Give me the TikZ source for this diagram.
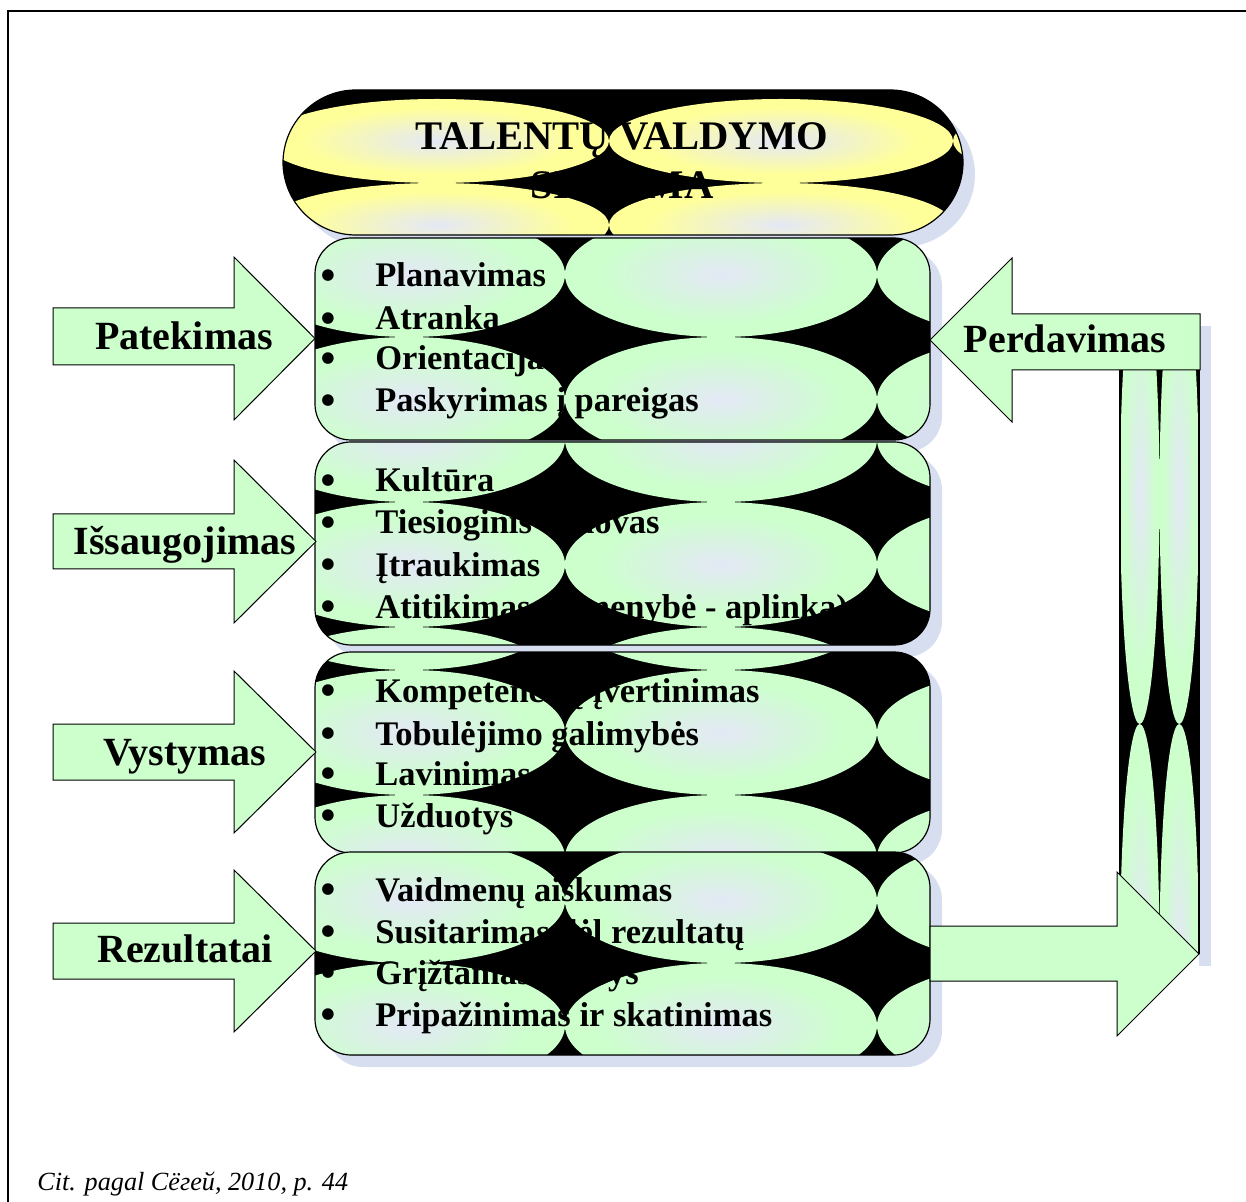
\documentclass[tikz,border=0pt]{standalone}
\usepackage{fontspec}
\setmainfont{Liberation Serif}
\newfontfamily\symfont{DejaVu Sans}

\definecolor{mint}{RGB}{204,255,204}
\definecolor{haze}{RGB}{228,232,246}
\definecolor{butter}{RGB}{255,255,153}
\definecolor{shadowblue}{RGB}{214,222,240}

% soft radial glows used inside the tiled ellipses
\pgfdeclareradialshading{mintglow}{\pgfpoint{0bp}{0bp}}{color(0bp)=(haze); color(20bp)=(mint); color(50bp)=(mint)}
\pgfdeclareradialshading{butterglow}{\pgfpoint{0bp}{0bp}}{color(0bp)=(haze); color(20bp)=(butter); color(50bp)=(butter)}

% Fill a clipped region with black and a grid of radially shaded ellipses
% #1 clip path, #2 x centres, #3 y centres, #4 x radius, #5 y radius, #6 shading
\newcommand\tilefill[6]{%
  \begin{scope}
    \clip #1;
    \fill[black] (0,0) rectangle (1246,1202);
    \foreach \cx in {#2}{\foreach \cy in {#3}{%
      \shade[shading=#6] (\cx,\cy) ellipse [x radius=#4, y radius=#5];}}
  \end{scope}}

% bullet item: name, baseline y, text
\newcommand\bitem[3]{%
  \node[dotmark] (#1d) at (328,#2-11) {●};
  \node[itemtext] (#1) at (375,#2) {#3};}

\begin{document}
\begin{tikzpicture}[x=0.5pt,y=-0.5pt,
  arrowbox/.style={fill=mint, draw=black, line width=0.5pt, line join=miter},
  outline/.style={draw=black, line width=0.6pt},
  itemtext/.style={anchor=base west, inner sep=0pt, font=\bfseries\fontsize{17.25}{20}\selectfont},
  dotmark/.style={anchor=center, inner sep=0pt, font=\symfont\fontsize{7.6}{8}\selectfont},
  flowlabel/.style={anchor=base, inner sep=0pt, font=\bfseries\fontsize{20}{24}\selectfont},
  titletext/.style={anchor=base, inner sep=0pt, font=\bfseries\fontsize{20.3}{24}\selectfont},
  shadowfill/.style={fill=shadowblue}]
\useasboundingbox (0,0) rectangle (1246,1202);

% frame
\draw[line width=1.2pt] (8,1202) -- (8,11) -- (1246,11);

% ---- title pill ----
\fill[shadowfill, rounded corners=36.5pt] (295,102) rectangle (975,247);
\tilefill{[rounded corners=36.5pt] (283,90) rectangle (963,235)}{437,781,1125}{141,225}{172}{42}{butterglow}
\draw[outline, rounded corners=36.5pt] (283,90) rectangle (963,235);
\node[titletext] (t1) at (622,150) {TALENTŲ VALDYMO};
\node[titletext] (t2) at (622,199) {SISTEMA};

% ---- box 1 ----
\fill[shadowfill, rounded corners=18pt] (327,250) rectangle (942,452);
\tilefill{[rounded corners=18pt] (315,238) rectangle (930,440)}{409,721,1033}{274.5,399.5}{156}{62.5}{mintglow}
\draw[outline, rounded corners=18pt] (315,238) rectangle (930,440);
\bitem{a1}{287}{Planavimas}
\bitem{a2}{330}{Atranka}
\bitem{a3}{370}{Orientacija}
\bitem{a4}{412}{Paskyrimas į pareigas}

% ---- box 2 ----
\fill[shadowfill, rounded corners=18pt] (327,454) rectangle (942,657);
\tilefill{[rounded corners=18pt] (315,442) rectangle (930,645)}{409,721,1033}{314.5,439.5,564.5,689.5}{156}{62.5}{mintglow}
\draw[outline, rounded corners=18pt] (315,442) rectangle (930,645);
\bitem{b1}{492}{Kultūra}
\bitem{b2}{534}{Tiesioginis vadovas}
\bitem{b3}{576}{Įtraukimas}
\bitem{b4}{618}{Atitikimas (asmenybė - aplinka)}

% ---- box 3 ----
\fill[shadowfill, rounded corners=18pt] (327,664) rectangle (942,865);
\tilefill{[rounded corners=18pt] (315,652) rectangle (930,853)}{409,721,1033}{607.5,732.5,857.5}{156}{62.5}{mintglow}
\draw[outline, rounded corners=18pt] (315,652) rectangle (930,853);
\bitem{c1}{702}{Kompetencijų įvertinimas}
\bitem{c2}{745}{Tobulėjimo galimybės}
\bitem{c3}{785}{Lavinimas}
\bitem{c4}{827}{Užduotys}

% ---- box 4 ----
\fill[shadowfill, rounded corners=18pt] (327,864) rectangle (942,1067);
\tilefill{[rounded corners=18pt] (315,852) rectangle (930,1055)}{409,721,1033}{775.5,900.5,1025.5}{156}{62.5}{mintglow}
\draw[outline, rounded corners=18pt] (315,852) rectangle (930,1055);
\bitem{d1}{901}{Vaidmenų aiškumas}
\bitem{d2}{943}{Susitarimas dėl rezultatų}
\bitem{d3}{984}{Grįžtamasis ryšys}
\bitem{d4}{1026}{Pripažinimas ir skatinimas}

% ---- incoming arrows on the left ----
\draw[arrowbox] (53,308) -- (234,308) -- (234,257) -- (315,338.5) -- (234,420) -- (234,365) -- (53,365) -- cycle;
\node[flowlabel] (l1) at (184,350) {Patekimas};
\draw[arrowbox] (53,514) -- (234,514) -- (234,460) -- (316,541.5) -- (234,623) -- (234,569) -- (53,569) -- cycle;
\node[flowlabel] (l2) at (185,555) {Išsaugojimas};
\draw[arrowbox] (53,724) -- (234,724) -- (234,671) -- (316,752) -- (234,833) -- (234,780) -- (53,780) -- cycle;
\node[flowlabel] (l3) at (185,765) {Vystymas};
\draw[arrowbox] (53,923) -- (234,923) -- (234,870) -- (316,951) -- (234,1032) -- (234,979) -- (53,979) -- cycle;
\node[flowlabel] (l4) at (185,962) {Rezultatai};

% ---- return loop on the right ----
\fill[shadowfill] (1199,326) rectangle (1211,966);
\tilefill{(1120,370) rectangle (1199,954)}{1139.75,1179.25}{494,954}{19.75}{230}{mintglow}
\draw[outline] (1120,370) -- (1120,954);
\draw[outline] (1199,370) -- (1199,954);
\draw[arrowbox] (1200,314) -- (1012,314) -- (1012,258) -- (930,340) -- (1012,422) -- (1012,370) -- (1200,370) -- cycle;
\node[flowlabel] (l5) at (1065,353) {Perdavimas};
\draw[arrowbox] (930,926) -- (1117,926) -- (1117,872) -- (1199,954) -- (1117,1036) -- (1117,981) -- (930,981) -- cycle;

% ---- source ----
\node[anchor=base west, inner sep=0pt, font=\itshape\fontsize{13.1}{16}\selectfont] (src) at (37,1190) {Cit. pagal Сёгей, 2010, p. 44};
\end{tikzpicture}
\end{document}
